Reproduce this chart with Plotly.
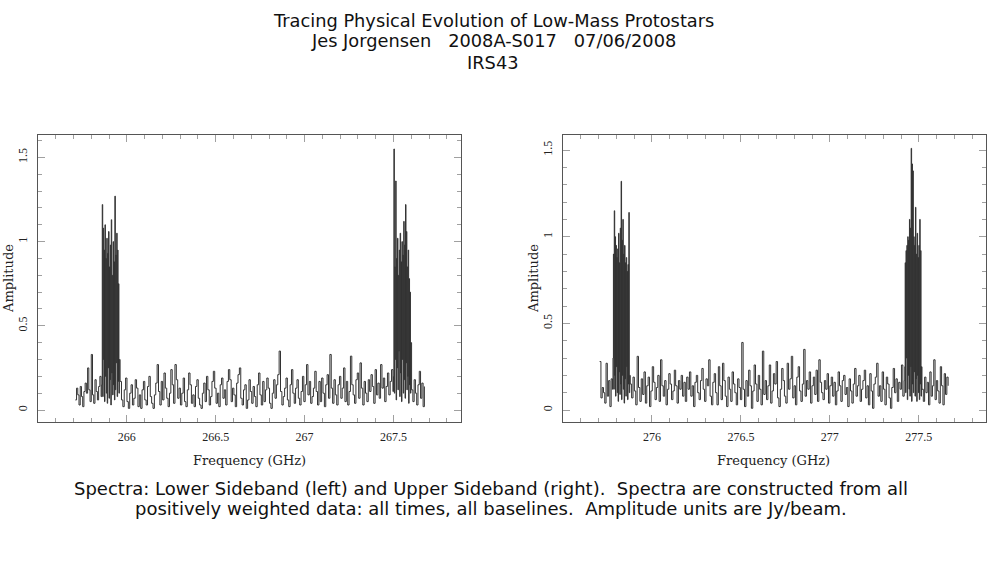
import numpy as np
import plotly.graph_objects as go

# ---------------- data (Jy/beam) ----------------
# Lower sideband segments: (start GHz, end GHz) and amplitudes
lsb_noise_a_range = (265.71, 265.855)
lsb_noise_a = [0.06, 0.13, 0.09, 0.03, 0.14, 0.08, 0.02, 0.11, 0.16, 0.10, 0.25,
               0.12, 0.05, 0.33, 0.09, 0.04, 0.18, 0.11, 0.06, 0.14, 0.20, 0.08]
lsb_line_a_range = (265.859, 265.958)
lsb_line_a = [0.15, 1.22, 0.08, 1.08, 0.30, 0.95, 0.05, 1.10, 0.20, 0.90,
              0.10, 1.02, 0.04, 0.93, 0.25, 1.06, 0.07, 0.85, 0.18, 0.98,
              0.03, 1.13, 0.22, 0.80, 0.09, 1.00, 0.15, 0.88, 0.06, 1.27,
              0.12, 0.92, 0.28, 1.05, 0.08, 0.95, 0.17, 0.75, 0.10, 0.30]
lsb_noise_b_range = (265.962, 267.497)
lsb_noise_b = [
    0.17, 0.06, 0.02, 0.12, 0.19, 0.05, 0.01, 0.10, 0.15, 0.03, 0.07, 0.18, 0.13, 0.02, 0.09, 0.01, 0.12, 0.17, 0.06, 0.03,
    0.14, 0.20, 0.08, 0.04, 0.01, 0.09, 0.16, 0.27, 0.11, 0.03, 0.17, 0.06, 0.22, 0.13, 0.07, 0.02, 0.10, 0.24, 0.15, 0.04,
    0.27, 0.18, 0.07, 0.13, 0.03, 0.10, 0.19, 0.05, 0.02, 0.12, 0.22, 0.15, 0.04, 0.09, 0.02, 0.14, 0.18, 0.07, 0.03, 0.01,
    0.10, 0.16, 0.05, 0.20, 0.12, 0.03, 0.08, 0.17, 0.23, 0.13, 0.04, 0.10, 0.02, 0.15, 0.19, 0.07, 0.12, 0.03, 0.17, 0.24,
    0.18, 0.05, 0.13, 0.09, 0.02, 0.16, 0.21, 0.25, 0.07, 0.03, 0.12, 0.15, 0.01, 0.06, 0.18, 0.11, 0.04, 0.14, 0.08, 0.02,
    0.15, 0.22, 0.09, 0.03, 0.17, 0.05, 0.12, 0.19, 0.13, 0.04, 0.01, 0.10, 0.18, 0.07, 0.15, 0.21, 0.35, 0.11, 0.03, 0.08,
    0.13, 0.19, 0.06, 0.02, 0.15, 0.24, 0.10, 0.04, 0.13, 0.18, 0.07, 0.03, 0.11, 0.20, 0.05, 0.15, 0.27, 0.09, 0.17, 0.04,
    0.08, 0.13, 0.23, 0.11, 0.03, 0.17, 0.05, 0.19, 0.10, 0.02, 0.15, 0.21, 0.07, 0.33, 0.13, 0.04, 0.18, 0.09, 0.03, 0.15,
    0.20, 0.07, 0.13, 0.25, 0.05, 0.17, 0.03, 0.11, 0.32, 0.15, 0.09, 0.04, 0.18, 0.22, 0.07, 0.28, 0.13, 0.03, 0.17, 0.10,
    0.05, 0.18, 0.11, 0.21, 0.14, 0.04, 0.24, 0.09, 0.16, 0.07, 0.27, 0.13, 0.19, 0.05, 0.14, 0.22, 0.09, 0.17, 0.24, 0.11]
lsb_line_b_range = (267.500, 267.598)
lsb_line_b = [0.20, 1.55, 0.10, 0.85, 0.30, 1.36, 0.06, 0.90, 0.25, 1.02,
              0.12, 0.80, 0.35, 0.95, 0.08, 1.05, 0.22, 0.88, 0.05, 1.00,
              0.30, 0.92, 0.10, 1.12, 0.18, 0.98, 0.07, 1.22, 0.28, 1.06,
              0.12, 0.85, 0.20, 0.95, 0.04, 0.78, 0.15, 0.70, 0.10, 0.40]
lsb_noise_c_range = (267.602, 267.674)
lsb_noise_c = [0.12, 0.05, 0.18, 0.10, 0.03, 0.15, 0.23, 0.07, 0.16, 0.02, 0.14]

# Upper sideband segments
usb_noise_a_range = (275.706, 275.778)
usb_noise_a = [0.28, 0.07, 0.13, 0.10, 0.04, 0.27, 0.08, 0.17, 0.02, 0.18, 0.12]
usb_line_a_range = (275.781, 275.875)
usb_line_a = [0.30, 0.90, 0.12, 1.15, 0.20, 1.00, 0.08, 0.95, 0.25, 0.88,
              0.10, 0.93, 0.05, 1.02, 0.22, 0.85, 0.09, 1.05, 0.15, 1.32,
              0.06, 0.98, 0.20, 1.10, 0.12, 0.90, 0.04, 0.95, 0.18, 0.85,
              0.08, 0.88, 0.25, 0.80, 0.06, 0.84, 0.15, 1.14, 0.10, 0.20]
usb_noise_b_range = (275.878, 277.418)
usb_noise_b = [
    0.15, 0.07, 0.19, 0.11, 0.03, 0.31, 0.13, 0.05, 0.18, 0.09, 0.22, 0.04, 0.14, 0.19, 0.02, 0.11, 0.25, 0.16, 0.06, 0.13,
    0.20, 0.05, 0.29, 0.14, 0.08, 0.17, 0.03, 0.12, 0.21, 0.15, 0.06, 0.11, 0.23, 0.14, 0.04, 0.17, 0.12, 0.20, 0.08, 0.16,
    0.05, 0.19, 0.12, 0.22, 0.08, 0.14, 0.02, 0.16, 0.20, 0.10, 0.06, 0.17, 0.24, 0.12, 0.05, 0.18, 0.14, 0.29, 0.08, 0.03,
    0.16, 0.21, 0.10, 0.03, 0.25, 0.14, 0.06, 0.27, 0.17, 0.08, 0.02, 0.19, 0.12, 0.05, 0.22, 0.15, 0.10, 0.03, 0.18, 0.13,
    0.06, 0.39, 0.12, 0.02, 0.17, 0.08, 0.23, 0.14, 0.01, 0.11, 0.26, 0.15, 0.05, 0.20, 0.12, 0.03, 0.34, 0.09, 0.17, 0.06,
    0.14, 0.26, 0.04, 0.11, 0.21, 0.15, 0.28, 0.07, 0.02, 0.12, 0.24, 0.17, 0.08, 0.04, 0.27, 0.12, 0.18, 0.31, 0.07, 0.14,
    0.03, 0.19, 0.25, 0.11, 0.05, 0.15, 0.35, 0.08, 0.17, 0.12, 0.22, 0.04, 0.14, 0.19, 0.09, 0.23, 0.05, 0.29, 0.16, 0.10,
    0.06, 0.17, 0.12, 0.21, 0.04, 0.14, 0.19, 0.08, 0.16, 0.03, 0.11, 0.22, 0.14, 0.05, 0.17, 0.20, 0.09, 0.13, 0.02, 0.18,
    0.11, 0.04, 0.15, 0.24, 0.08, 0.14, 0.20, 0.05, 0.12, 0.17, 0.23, 0.07, 0.14, 0.03, 0.21, 0.11, 0.01, 0.15, 0.19, 0.27,
    0.08, 0.14, 0.05, 0.22, 0.12, 0.03, 0.19, 0.15, 0.07, 0.01, 0.13, 0.24, 0.10, 0.18, 0.05, 0.16, 0.12, 0.26, 0.08, 0.17]
usb_line_b_range = (277.421, 277.515)
usb_line_b = [0.25, 0.85, 0.10, 0.92, 0.30, 0.95, 0.06, 1.00, 0.20, 0.98,
              0.12, 1.10, 0.08, 1.05, 0.25, 1.51, 0.05, 1.42, 0.15, 1.38,
              0.10, 1.00, 0.22, 0.95, 0.08, 1.17, 0.18, 0.90, 0.05, 1.02,
              0.20, 0.88, 0.10, 0.95, 0.06, 1.10, 0.15, 0.92, 0.08, 0.25]
usb_noise_c_range = (277.518, 277.665)
usb_noise_c = [0.12, 0.05, 0.19, 0.10, 0.16, 0.03, 0.22, 0.08, 0.14, 0.29, 0.06,
               0.17, 0.11, 0.04, 0.25, 0.14, 0.03, 0.21, 0.09, 0.19, 0.14]

lsb_ticks = [266, 266.5, 267, 267.5]
usb_ticks = [276, 276.5, 277, 277.5]
amp_ticks = [0, 0.5, 1, 1.5]

title_lines = ["Tracing Physical Evolution of Low-Mass Protostars",
               "Jes Jorgensen   2008A-S017   07/06/2008",
               "IRS43"]
caption_lines = ["Spectra: Lower Sideband (left) and Upper Sideband (right).  Spectra are constructed from all",
                 "positively weighted data: all times, all baselines.  Amplitude units are Jy/beam."]


def build(segments):
    xs, ys = [], []
    for rng, vals in segments:
        xs.extend(np.linspace(rng[0], rng[1], len(vals)).tolist())
        ys.extend(vals)
    return xs, ys


lsb_x, lsb_y = build([(lsb_noise_a_range, lsb_noise_a), (lsb_line_a_range, lsb_line_a),
                      (lsb_noise_b_range, lsb_noise_b), (lsb_line_b_range, lsb_line_b),
                      (lsb_noise_c_range, lsb_noise_c)])
usb_x, usb_y = build([(usb_noise_a_range, usb_noise_a), (usb_line_a_range, usb_line_a),
                      (usb_noise_b_range, usb_noise_b), (usb_line_b_range, usb_line_b),
                      (usb_noise_c_range, usb_noise_c)])

W, H = 987, 567
fig = go.Figure()
fig.add_trace(go.Scatter(x=lsb_x, y=lsb_y, mode="lines", line=dict(color="#333333", width=1, shape="hv"),
                         xaxis="x", yaxis="y", showlegend=False, hoverinfo="skip"))
fig.add_trace(go.Scatter(x=usb_x, y=usb_y, mode="lines", line=dict(color="#333333", width=1, shape="hv"),
                         xaxis="x2", yaxis="y2", showlegend=False, hoverinfo="skip"))

tickfont = dict(family="Liberation Serif", size=12, color="#222")
minor = dict(ticks="inside", ticklen=4, dtick=0.1, tickcolor="#a0a0a0", tickwidth=1)
common = dict(showgrid=False, zeroline=False, ticks="inside", ticklen=7, tickcolor="#a0a0a0", tickwidth=1,
              mirror="ticks", showline=True, linecolor="#555", linewidth=1, tickfont=tickfont, minor=minor)

ytop, ybot = 1 - 135 / H, 1 - 422 / H
fig.update_layout(
    width=W, height=H, margin=dict(l=0, r=0, t=0, b=0),
    paper_bgcolor="white", plot_bgcolor="white",
    xaxis=dict(common, domain=[38 / W, 461 / W], range=[265.5, 267.88], tickvals=lsb_ticks,
               ticktext=[str(t) for t in lsb_ticks], anchor="y", ticklabelstandoff=4),
    yaxis=dict(common, domain=[ybot, ytop], range=[-0.071, 1.633], tickvals=amp_ticks,
               ticktext=[str(t) for t in amp_ticks], tickangle=-90, anchor="x", ticklabelstandoff=5),
    xaxis2=dict(common, domain=[563 / W, 985.5 / W], range=[275.5, 277.875], tickvals=usb_ticks,
                ticktext=[str(t) for t in usb_ticks], anchor="y2", ticklabelstandoff=4),
    yaxis2=dict(common, domain=[ybot, ytop], range=[-0.069, 1.587], tickvals=amp_ticks,
                ticktext=[str(t) for t in amp_ticks], tickangle=-90, anchor="x2", ticklabelstandoff=5),
)

ann = []
for i, t in enumerate(title_lines):
    ann.append(dict(text=t, x=493 / W, y=1 - (20 + 21 * i) / H, xref="paper", yref="paper",
                    xanchor="center", yanchor="middle", showarrow=False,
                    font=dict(family="DejaVu Sans", size=17.8, color="#111")))
for i, t in enumerate(caption_lines):
    ann.append(dict(text=t, x=491 / W, y=1 - (488 + 20 * i) / H, xref="paper", yref="paper",
                    xanchor="center", yanchor="middle", showarrow=False,
                    font=dict(family="DejaVu Sans", size=18, color="#111")))
for xc in (249, 773):
    ann.append(dict(text="Frequency (GHz)", x=xc / W, y=1 - 460 / H, xref="paper", yref="paper",
                    xanchor="center", yanchor="middle", showarrow=False,
                    font=dict(family="DejaVu Serif", size=13, color="#222")))
for xc in (8, 533):
    ann.append(dict(text="Amplitude", x=xc / W, y=1 - 279 / H, xref="paper", yref="paper",
                    xanchor="center", yanchor="middle", showarrow=False, textangle=-90,
                    font=dict(family="DejaVu Serif", size=13, color="#222")))
fig.update_layout(annotations=ann)

fig.write_html("out.html", config={"displayModeBar": False},
               post_script="document.body.style.margin='0';")
